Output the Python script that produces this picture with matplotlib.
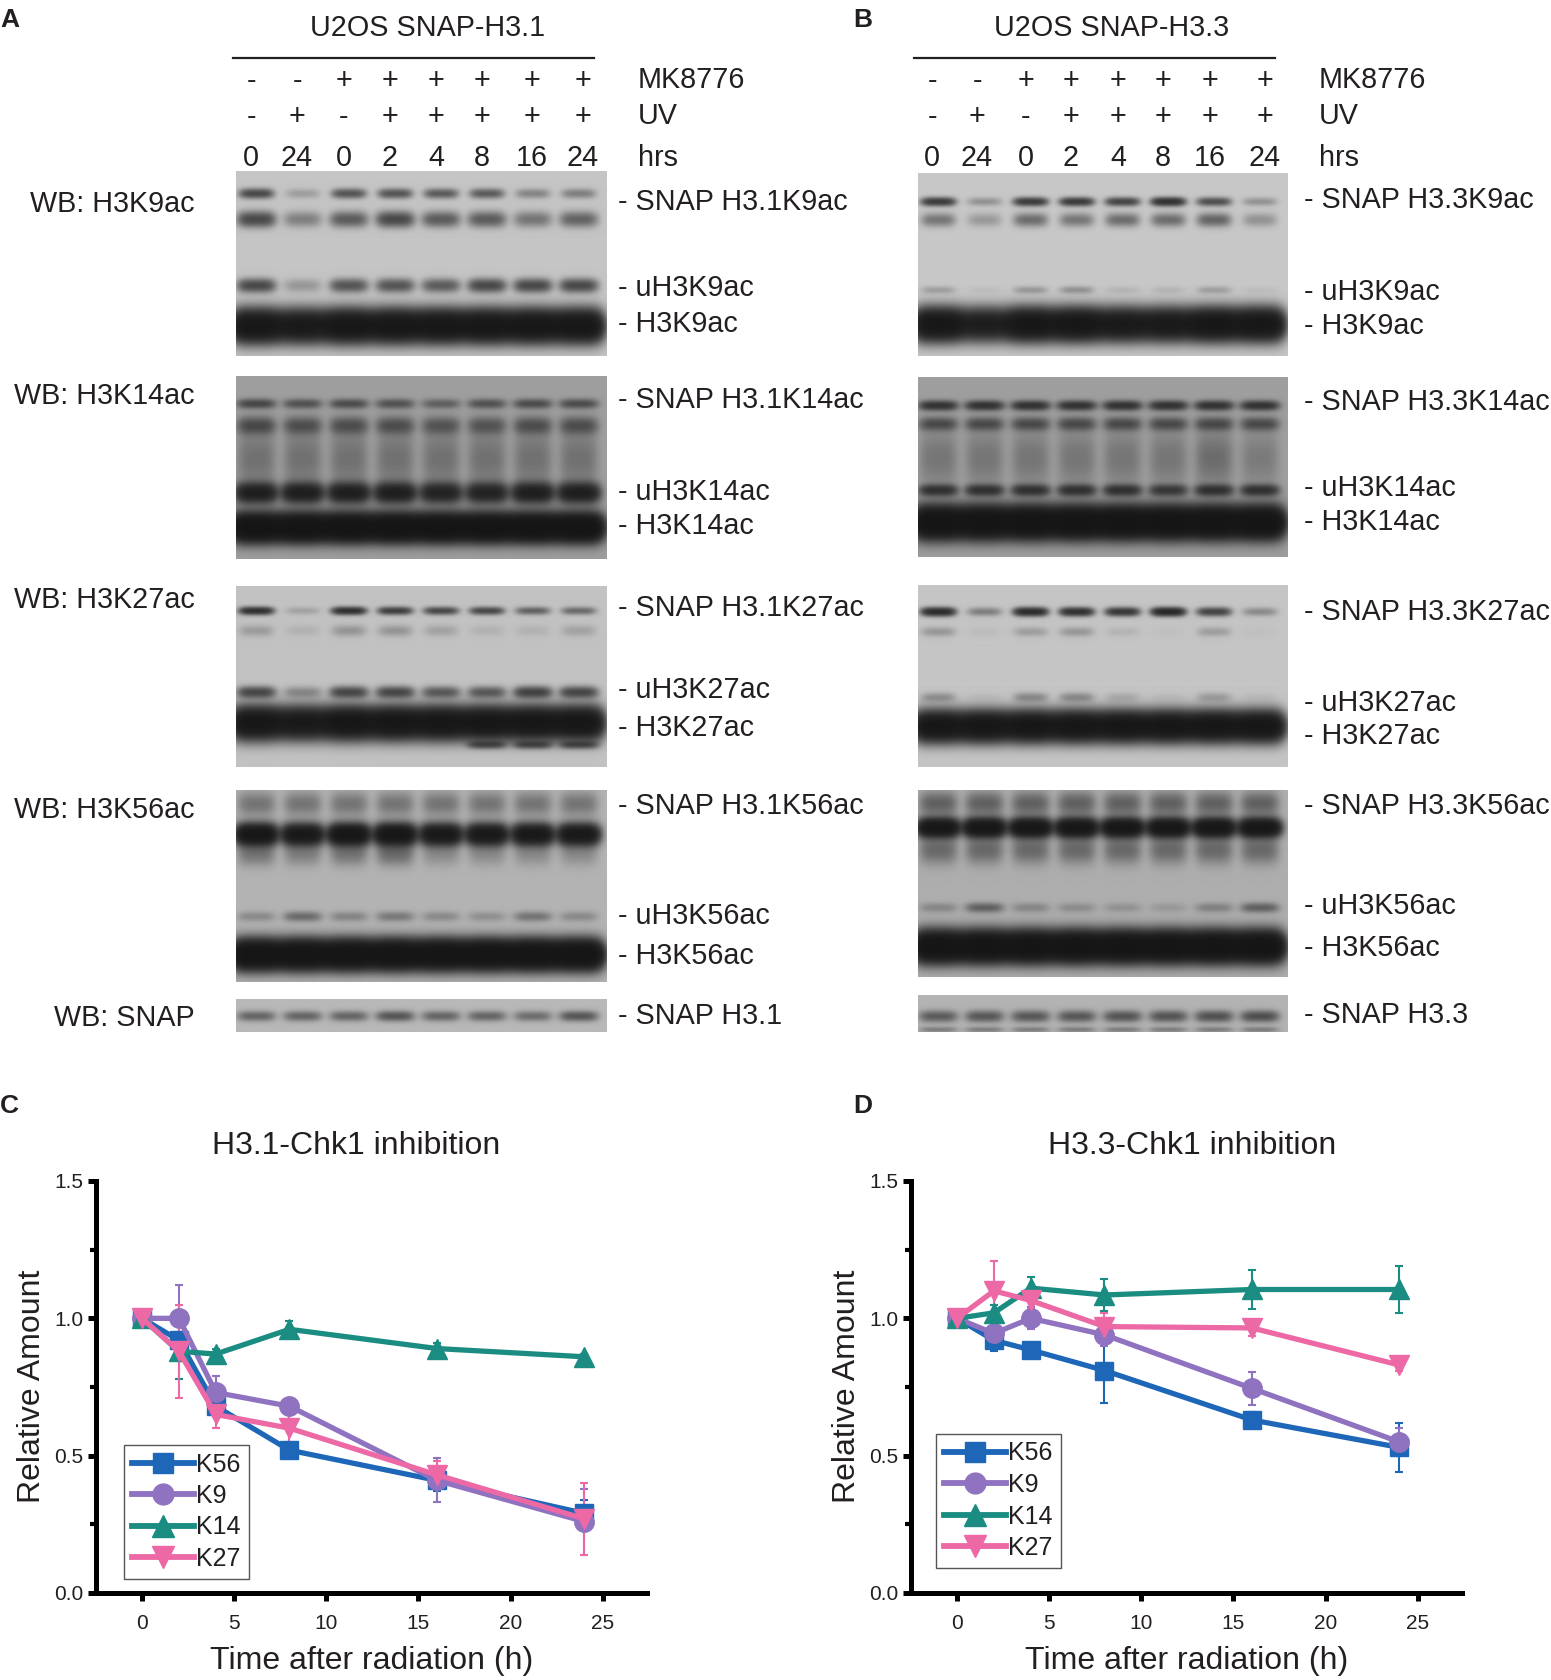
import numpy as np
import matplotlib
matplotlib.use("Agg")
import matplotlib.pyplot as plt
from matplotlib.lines import Line2D

plt.rcParams['font.family'] = ['Liberation Sans', 'DejaVu Sans']

# ---------------- data ----------------
MK8776 = ['-', '-', '+', '+', '+', '+', '+', '+']
UV = ['-', '+', '-', '+', '+', '+', '+', '+']
HRS = ['0', '24', '0', '2', '4', '8', '16', '24']
LANE_FRAC = [0.054, 0.179, 0.304, 0.429, 0.553, 0.677, 0.801, 0.925]

# band tuples: (y position fraction, y spread, lane half width, per-lane intensity)
A_K9 = [(0.12, 0.025, 0.045, [1.2, 0.25, 1.0, 1.0, 0.9, 0.9, 0.45, 0.5]),
        (0.26, 0.040, 0.050, [1.2, 0.5, 0.9, 1.2, 0.9, 0.9, 0.6, 0.8]),
        (0.62, 0.035, 0.050, [1.2, 0.3, 1.0, 1.0, 0.9, 1.2, 1.2, 1.2]),
        (0.84, 0.080, 0.066, [4, 3.5, 4, 4, 4, 4, 4, 4])]
A_K14 = [(0.15, 0.025, 0.050, [1.0, 0.8, 0.9, 0.8, 0.6, 0.8, 0.9, 0.9]),
         (0.27, 0.045, 0.050, [0.9, 0.8, 0.8, 0.8, 0.7, 0.7, 0.8, 0.8]),
         (0.45, 0.150, 0.050, [0.4, 0.4, 0.4, 0.4, 0.4, 0.4, 0.4, 0.4]),
         (0.64, 0.050, 0.055, [2.5, 2.5, 2.5, 2.5, 2.2, 2.2, 2.5, 2.5]),
         (0.83, 0.070, 0.066, [5, 5, 5, 5, 5, 5, 5, 5])]
A_K27 = [(0.14, 0.020, 0.045, [1.8, 0.2, 1.8, 1.4, 1.2, 1.2, 0.8, 0.7]),
         (0.25, 0.030, 0.045, [0.25, 0.1, 0.3, 0.3, 0.2, 0.1, 0.1, 0.2]),
         (0.59, 0.030, 0.050, [1.2, 0.4, 1.2, 1.2, 0.9, 0.9, 1.3, 1.2]),
         (0.76, 0.080, 0.066, [4, 3.5, 4, 4, 4, 4, 4, 4]),
         (0.88, 0.020, 0.050, [0, 0, 0, 0, 0, 1.0, 1.0, 1.0])]
A_K56 = [(0.07, 0.060, 0.050, [0.5, 0.5, 0.5, 0.5, 0.5, 0.5, 0.5, 0.5]),
         (0.23, 0.050, 0.055, [4, 3.5, 4, 4, 3.5, 3.5, 3.5, 3.5]),
         (0.33, 0.060, 0.050, [0.5, 0.4, 0.5, 0.6, 0.3, 0.3, 0.3, 0.3]),
         (0.66, 0.025, 0.050, [0.3, 0.6, 0.35, 0.45, 0.3, 0.25, 0.5, 0.3]),
         (0.86, 0.070, 0.066, [5, 5, 5, 5, 5, 5, 5, 5])]
A_SNAP = [(0.52, 0.150, 0.050, [0.7, 0.7, 0.7, 0.9, 0.7, 0.7, 0.6, 0.9])]

B_K9 = [(0.155, 0.022, 0.045, [1.5, 0.35, 1.5, 1.5, 1.3, 1.8, 1.1, 0.35]),
        (0.255, 0.035, 0.045, [0.6, 0.3, 0.7, 0.6, 0.7, 0.7, 0.8, 0.35]),
        (0.64, 0.020, 0.045, [0.25, 0.05, 0.3, 0.35, 0.1, 0.1, 0.25, 0.05]),
        (0.83, 0.080, 0.066, [4, 3, 4, 4, 3.5, 3.5, 4, 4])]
B_K14 = [(0.157, 0.025, 0.050, [1.5, 1.5, 1.5, 1.5, 1.5, 1.5, 1.5, 1.5]),
         (0.26, 0.035, 0.050, [0.9, 0.9, 0.9, 0.9, 0.9, 0.9, 0.9, 0.9]),
         (0.45, 0.150, 0.050, [0.35, 0.35, 0.35, 0.35, 0.35, 0.35, 0.45, 0.3]),
         (0.63, 0.030, 0.050, [1.5, 1.5, 1.5, 1.5, 1.5, 1.3, 1.5, 1.5]),
         (0.81, 0.080, 0.066, [5, 5, 5, 5, 5, 5, 5, 5])]
B_K27 = [(0.15, 0.022, 0.045, [2.0, 0.5, 2.0, 1.8, 1.6, 2.2, 1.3, 0.4]),
         (0.26, 0.025, 0.045, [0.3, 0.05, 0.25, 0.3, 0.1, 0.03, 0.25, 0.03]),
         (0.62, 0.025, 0.045, [0.35, 0.05, 0.4, 0.4, 0.15, 0.05, 0.25, 0.05]),
         (0.78, 0.075, 0.066, [4, 4, 4, 4, 4, 4, 4, 4])]
B_K56 = [(0.07, 0.060, 0.050, [0.7, 0.7, 0.7, 0.7, 0.7, 0.7, 0.7, 0.7]),
         (0.20, 0.045, 0.055, [4, 4, 4, 4, 4, 4, 4, 4]),
         (0.32, 0.070, 0.050, [0.6, 0.6, 0.6, 0.6, 0.6, 0.6, 0.6, 0.6]),
         (0.63, 0.025, 0.050, [0.3, 0.7, 0.3, 0.25, 0.2, 0.15, 0.35, 0.7]),
         (0.84, 0.075, 0.066, [5, 5, 5, 5, 5, 5, 5, 5])]
B_SNAP = [(0.58, 0.150, 0.050, [0.8, 0.85, 0.85, 0.85, 0.9, 0.9, 0.95, 1.0]),
          (0.95, 0.080, 0.050, [0.4, 0.4, 0.4, 0.4, 0.4, 0.4, 0.4, 0.4])]

A_BLOTS = [A_K9, A_K14, A_K27, A_K56, A_SNAP]
B_BLOTS = [B_K9, B_K14, B_K27, B_K56, B_SNAP]
A_BG = [0.77, 0.62, 0.76, 0.70, 0.72]
B_BG = [0.78, 0.62, 0.77, 0.68, 0.70]

WB_LABELS = ['WB: H3K9ac', 'WB: H3K14ac', 'WB: H3K27ac', 'WB: H3K56ac', 'WB: SNAP']
A_BAND_LABELS = [['SNAP H3.1K9ac', 'uH3K9ac', 'H3K9ac'],
                 ['SNAP H3.1K14ac', 'uH3K14ac', 'H3K14ac'],
                 ['SNAP H3.1K27ac', 'uH3K27ac', 'H3K27ac'],
                 ['SNAP H3.1K56ac', 'uH3K56ac', 'H3K56ac'],
                 ['SNAP H3.1']]
B_BAND_LABELS = [['SNAP H3.3K9ac', 'uH3K9ac', 'H3K9ac'],
                 ['SNAP H3.3K14ac', 'uH3K14ac', 'H3K14ac'],
                 ['SNAP H3.3K27ac', 'uH3K27ac', 'H3K27ac'],
                 ['SNAP H3.3K56ac', 'uH3K56ac', 'H3K56ac'],
                 ['SNAP H3.3']]

HOURS = [0, 2, 4, 8, 16, 24]
SERIES = ['K56', 'K9', 'K14', 'K27']
C_VALUES = {'K56': [1.0, 0.92, 0.68, 0.52, 0.41, 0.29],
            'K9': [1.0, 1.0, 0.73, 0.68, 0.41, 0.26],
            'K14': [1.0, 0.88, 0.87, 0.96, 0.89, 0.86],
            'K27': [1.0, 0.88, 0.65, 0.60, 0.43, 0.27]}
C_ERRORS = {'K56': [0.0, 0.03, 0.04, 0.02, 0.04, 0.05],
            'K9': [0.0, 0.12, 0.06, 0.02, 0.08, 0.12],
            'K14': [0.02, 0.10, 0.02, 0.03, 0.02, 0.01],
            'K27': [0.0, 0.17, 0.05, 0.08, 0.05, 0.13]}
D_VALUES = {'K56': [1.0, 0.92, 0.885, 0.81, 0.63, 0.53],
            'K9': [1.0, 0.945, 1.0, 0.94, 0.745, 0.55],
            'K14': [1.0, 1.02, 1.11, 1.085, 1.105, 1.105],
            'K27': [1.0, 1.10, 1.065, 0.97, 0.965, 0.83]}
D_ERRORS = {'K56': [0.0, 0.04, 0.02, 0.12, 0.03, 0.09],
            'K9': [0.0, 0.05, 0.04, 0.04, 0.06, 0.05],
            'K14': [0.01, 0.03, 0.04, 0.06, 0.07, 0.085],
            'K27': [0.0, 0.11, 0.03, 0.05, 0.03, 0.02]}
COLORS = {'K56': '#1e67b8', 'K9': '#8f72c0', 'K14': '#1a8c82', 'K27': '#ec69a6'}
MARKERS = {'K56': 's', 'K9': 'o', 'K14': '^', 'K27': 'v'}
MSIZE = {'K56': 13, 'K9': 14, 'K14': 15, 'K27': 15}

# ---------------- figure ----------------
W, H = 1551, 1680
fig = plt.figure(figsize=(W / 100, H / 100), dpi=100)
TC = '#231f20'
FS = 20.7
DY = 3.5


def fx(x):
    return x / W


def fy(y):
    return 1 - y / H


def text(x, y, s, size=FS, ha='left', **kw):
    fig.text(fx(x), fy(y + DY), s, fontsize=size, ha=ha, va='center', color=TC, **kw)


def blot_image(bands, bg, nx, ny):
    xs = np.linspace(0, 1, nx)
    ys = np.linspace(0, 1, ny)
    dens = np.zeros((ny, nx))
    for yc, sy, hw, inten in bands:
        prof_y = np.exp(-((ys - yc) / sy) ** 2)
        for c, v in zip(LANE_FRAC, inten):
            prof_x = np.exp(-((xs - c) / hw) ** 4)
            dens += v * np.outer(prof_y, prof_x)
    floor = 0.08
    return floor + (bg - floor) * np.exp(-dens)


def draw_blot(x0, x1, y0, y1, bands, bg):
    ax = fig.add_axes([fx(x0), fy(y1), fx(x1 - x0), (y1 - y0) / H])
    img = blot_image(bands, bg, int(x1 - x0), int(y1 - y0))
    ax.imshow(img, cmap='gray', vmin=0, vmax=1, aspect='auto', interpolation='bilinear')
    ax.set_axis_off()


def header(letter, lx, title, tx, line_x0, line_x1, lane_x, lab_x):
    fig.text(fx(lx), fy(20), letter, fontsize=19, fontweight='bold', ha='left', va='center', color=TC)
    text(tx, 24, title, ha='center')
    fig.add_artist(Line2D([fx(line_x0), fx(line_x1)], [fy(58), fy(58)], lw=1.6, color=TC))
    for row_y, vals in ((77, MK8776), (113, UV), (154, HRS)):
        for xx, v in zip(lane_x, vals):
            text(xx, row_y, v, ha='center')
    text(lab_x, 77, 'MK8776')
    text(lab_x, 113, 'UV')
    text(lab_x, 154, 'hrs')


A_LANE_X = [251, 297, 344, 390, 436, 482, 532, 583]
B_LANE_X = [932, 977, 1026, 1071, 1118, 1163, 1210, 1265]
header('A', 0, 'U2OS SNAP-H3.1', 428, 233, 594, A_LANE_X, 638)
header('B', 853, 'U2OS SNAP-H3.3', 1112, 914, 1275, B_LANE_X, 1319)

A_ROWS = [(171, 356), (376, 559), (586, 767), (790, 982), (999, 1032)]
B_ROWS = [(173, 356), (377, 557), (585, 767), (790, 977), (995, 1032)]
A_LABEL_Y = [[198, 284, 321], [397, 489, 522], [604, 687, 724], [803, 913, 953], [1013]]
B_LABEL_Y = [[197, 288, 323], [398, 485, 518], [609, 700, 733], [803, 903, 945], [1012]]
WB_Y = [201, 392, 597, 807, 1015]

for i in range(5):
    draw_blot(236, 607, A_ROWS[i][0], A_ROWS[i][1], A_BLOTS[i], A_BG[i])
    draw_blot(918, 1288, B_ROWS[i][0], B_ROWS[i][1], B_BLOTS[i], B_BG[i])
    text(195, WB_Y[i], WB_LABELS[i], ha='right')
    for s, yy in zip(A_BAND_LABELS[i], A_LABEL_Y[i]):
        text(618, yy, '- ' + s)
    for s, yy in zip(B_BAND_LABELS[i], B_LABEL_Y[i]):
        text(1304, yy, '- ' + s)


# ---------------- line charts ----------------
def line_panel(left_px, values, errors, letter, letter_x, title, title_x, ylab_x, leg_xy):
    ax = fig.add_axes([fx(left_px), fy(1593), (647 - 96) / W, (1593 - 1181) / H])
    handles = []
    for s in SERIES:
        ax.errorbar(HOURS, values[s], yerr=errors[s], color=COLORS[s], marker=MARKERS[s],
                    ms=MSIZE[s], lw=3.8, elinewidth=1.5, capsize=3, capthick=1.5,
                    clip_on=False)
        handles.append(Line2D([], [], color=COLORS[s], marker=MARKERS[s], ms=MSIZE[s] + 1,
                              lw=4.2, label=s))
    ax.set_xlim(-2.5, 27.4)
    ax.set_ylim(0, 1.5)
    ax.set_xticks([0, 5, 10, 15, 20, 25])
    ax.set_yticks([0, 0.5, 1.0, 1.5])
    ax.set_yticklabels(['0.0', '0.5', '1.0', '1.5'])
    ax.set_yticks([0.25, 0.75, 1.25], minor=True)
    for sp in ('top', 'right'):
        ax.spines[sp].set_visible(False)
    for sp in ('left', 'bottom'):
        ax.spines[sp].set_linewidth(3.6)
        ax.spines[sp].set_color('black')
    ax.tick_params(axis='both', which='major', direction='out', length=6, width=3.6,
                   labelsize=15, labelcolor=TC)
    ax.tick_params(axis='x', which='major', pad=9)
    ax.tick_params(axis='y', which='major', pad=3)
    ax.tick_params(axis='y', which='minor', direction='out', length=4, width=3.0)
    ax.patch.set_alpha(0)
    leg = ax.legend(handles=handles, loc='upper left', bbox_to_anchor=(fx(leg_xy[0]), fy(leg_xy[1])),
                    bbox_transform=fig.transFigure, borderaxespad=0, fontsize=18,
                    handlelength=2.5, handletextpad=0.1, labelspacing=0.3, borderpad=0.3,
                    numpoints=1, fancybox=False, framealpha=1, edgecolor='#555555')
    leg.get_frame().set_linewidth(1.0)
    for t in leg.get_texts():
        t.set_color(TC)
    fig.text(fx(letter_x), fy(1106), letter, fontsize=19, fontweight='bold', ha='left', va='center', color=TC)
    text(title_x, 1143, title, size=23, ha='center')
    fig.text(fx(ylab_x), fy(1386), 'Relative Amount', fontsize=23, rotation=90,
             ha='center', va='center', color=TC)
    text(left_px + 276, 1657, 'Time after radiation (h)', size=23, ha='center')


line_panel(96, C_VALUES, C_ERRORS, 'C', 0, 'H3.1-Chk1 inhibition', 356, 32, (124, 1445))
line_panel(911, D_VALUES, D_ERRORS, 'D', 853, 'H3.3-Chk1 inhibition', 1192, 847, (936, 1434))

fig.savefig('out.png', dpi=100, facecolor='white')
